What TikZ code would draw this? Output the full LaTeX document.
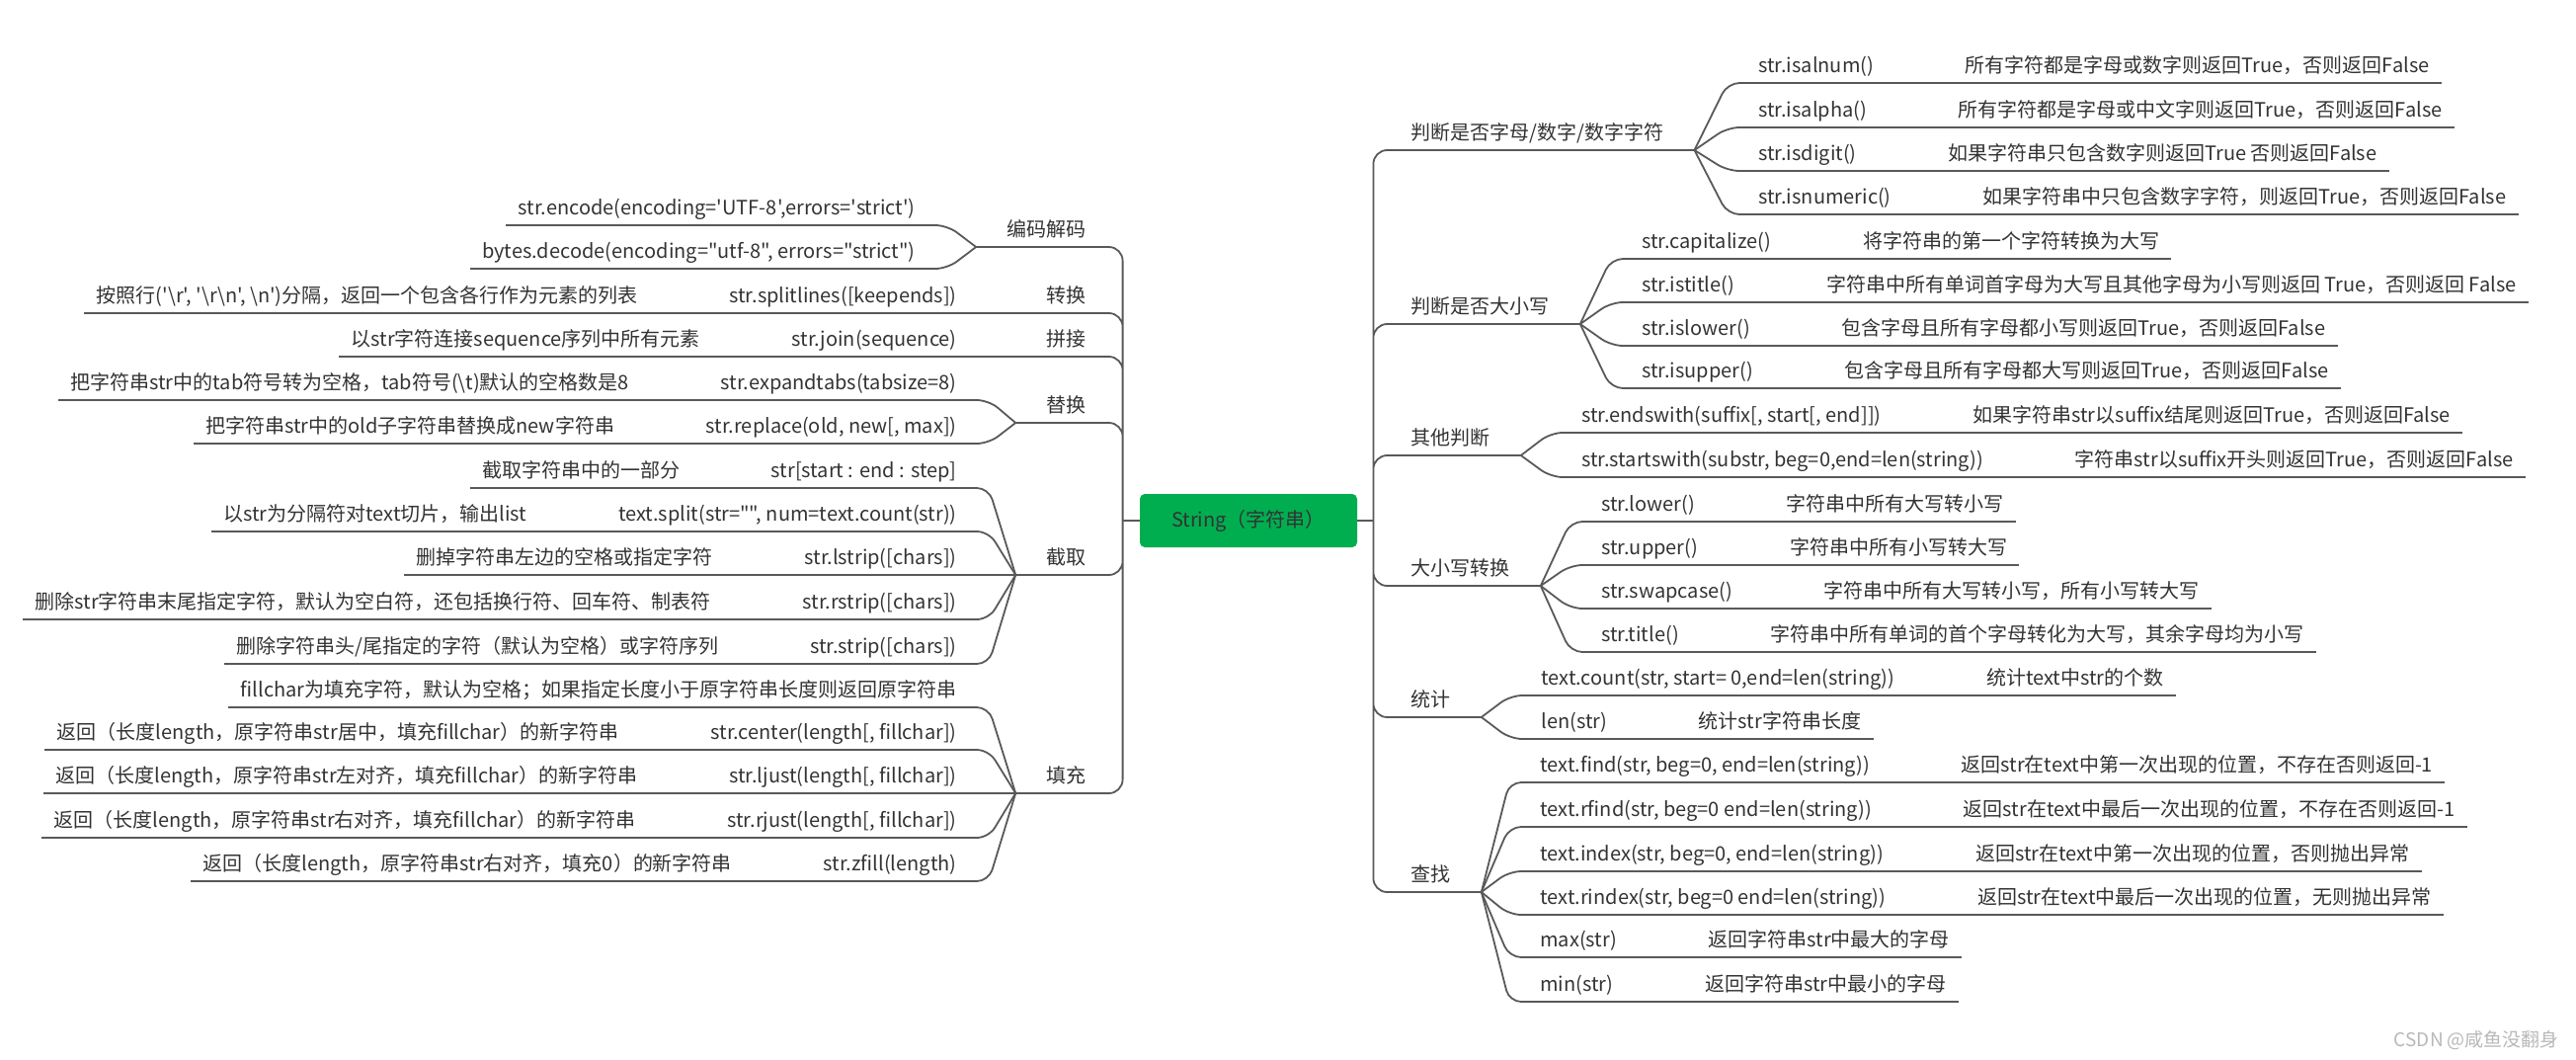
\documentclass[tikz,border=0pt]{standalone}
\usepackage{fontspec}
\setmainfont{Noto Sans CJK SC}[Ligatures=TeXOff]
\usepackage{tikz}
\usetikzlibrary{positioning}
\definecolor{rootgreen}{HTML}{00AE50}
\definecolor{linegray}{HTML}{595959}
\definecolor{txtgray}{HTML}{333333}

\begin{document}
\begin{tikzpicture}[x=0.5pt,y=-0.5pt,node distance=34pt,
   every node/.style={text=txtgray,font=\fontsize{10}{12}\selectfont},
   every edge/.style={draw=linegray,line width=0.9pt},
   root/.style={fill=rootgreen,rounded corners=2.5pt,minimum width=110pt,minimum height=27pt},
   cat/.style={inner xsep=15.5pt,inner ysep=0pt,text height=8pt,text depth=5pt},
   leaf/.style={inner xsep=6pt,inner ysep=0pt,text height=8pt,text depth=5pt,
      append after command={(\tikzlastnode.south west) edge (\tikzlastnode.south east)}},
   trunk/.style={draw=linegray,line width=0.9pt,rounded corners=7pt},
   fanr/.style={rounded corners=6pt,to path={-- ([xshift=-9.5pt]\tikztotarget) -- (\tikztotarget)}},
   fanl/.style={rounded corners=6pt,to path={-- ([xshift=10pt]\tikztotarget) -- (\tikztotarget)}}]
   \useasboundingbox (0,0) rectangle (2608,1072);

   \node[root] (root) at (1264,527) {String（字符串）};
   \coordinate (lt) at ([xshift=-8.5pt]root.west);
   \coordinate (rt) at ([xshift=8pt]root.east);

   % right side
   \node[cat,anchor=south west] (c_alpha) at (1397,152) {判断是否字母/数字/数字字符};
   \node[cat,anchor=south west] (c_case)  at (1397,328) {判断是否大小写};
   \node[cat,anchor=south west] (c_other) at (1397,461) {其他判断};
   \node[cat,anchor=south west] (c_conv)  at (1397,593) {大小写转换};
   \node[cat,anchor=south west] (c_count) at (1397,726) {统计};
   \node[cat,anchor=south west] (c_find)  at (1397,903) {查找};

   \node[leaf,anchor=south west] (m_isalnum) at (1768,84) {str.isalnum()};
   \node[leaf] (d_isalnum) [right=of m_isalnum] {所有字符都是字母或数字则返回True，否则返回False};
   \node[leaf,anchor=south west] (m_isalpha) at (1768,129) {str.isalpha()};
   \node[leaf] (d_isalpha) [right=of m_isalpha] {所有字符都是字母或中文字则返回True，否则返回False};
   \node[leaf,anchor=south west] (m_isdigit) at (1768,173) {str.isdigit()};
   \node[leaf] (d_isdigit) [right=of m_isdigit] {如果字符串只包含数字则返回True 否则返回False};
   \node[leaf,anchor=south west] (m_isnumeric) at (1768,217) {str.isnumeric()};
   \node[leaf] (d_isnumeric) [right=of m_isnumeric] {如果字符串中只包含数字字符，则返回True，否则返回False};

   \node[leaf,anchor=south west] (m_capitalize) at (1650,262) {str.capitalize()};
   \node[leaf] (d_capitalize) [right=of m_capitalize] {将字符串的第一个字符转换为大写};
   \node[leaf,anchor=south west] (m_istitle) at (1650,306) {str.istitle()};
   \node[leaf] (d_istitle) [right=of m_istitle] {字符串中所有单词首字母为大写且其他字母为小写则返回 True，否则返回 False};
   \node[leaf,anchor=south west] (m_islower) at (1650,350) {str.islower()};
   \node[leaf] (d_islower) [right=of m_islower] {包含字母且所有字母都小写则返回True，否则返回False};
   \node[leaf,anchor=south west] (m_isupper) at (1650,393) {str.isupper()};
   \node[leaf] (d_isupper) [right=of m_isupper] {包含字母且所有字母都大写则返回True，否则返回False};

   \node[leaf,anchor=south west] (m_endswith) at (1589,438) {str.endswith(suffix[, start[, end]])};
   \node[leaf] (d_endswith) [right=of m_endswith] {如果字符串str以suffix结尾则返回True，否则返回False};
   \node[leaf,anchor=south west] (m_startswith) at (1589,483) {str.startswith(substr, beg=0,end=len(string))};
   \node[leaf] (d_startswith) [right=of m_startswith] {字符串str以suffix开头则返回True，否则返回False};

   \node[leaf,anchor=south west] (m_lower) at (1609,528) {str.lower()};
   \node[leaf] (d_lower) [right=of m_lower] {字符串中所有大写转小写};
   \node[leaf,anchor=south west] (m_upper) at (1609,572) {str.upper()};
   \node[leaf] (d_upper) [right=of m_upper] {字符串中所有小写转大写};
   \node[leaf,anchor=south west] (m_swapcase) at (1609,616) {str.swapcase()};
   \node[leaf] (d_swapcase) [right=of m_swapcase] {字符串中所有大写转小写，所有小写转大写};
   \node[leaf,anchor=south west] (m_title) at (1609,660) {str.title()};
   \node[leaf] (d_title) [right=of m_title] {字符串中所有单词的首个字母转化为大写，其余字母均为小写};

   \node[leaf,anchor=south west] (m_count) at (1548,704) {text.count(str, start= 0,end=len(string))};
   \node[leaf] (d_count) [right=of m_count] {统计text中str的个数};
   \node[leaf,anchor=south west] (m_len) at (1548,748) {len(str)};
   \node[leaf] (d_len) [right=of m_len] {统计str字符串长度};

   \node[leaf,anchor=south west] (m_find) at (1547,792) {text.find(str, beg=0, end=len(string))};
   \node[leaf] (d_find) [right=of m_find] {返回str在text中第一次出现的位置，不存在否则返回-1};
   \node[leaf,anchor=south west] (m_rfind) at (1547,837) {text.rfind(str, beg=0 end=len(string))};
   \node[leaf] (d_rfind) [right=of m_rfind] {返回str在text中最后一次出现的位置，不存在否则返回-1};
   \node[leaf,anchor=south west] (m_index) at (1547,882) {text.index(str, beg=0, end=len(string))};
   \node[leaf] (d_index) [right=of m_index] {返回str在text中第一次出现的位置，否则抛出异常};
   \node[leaf,anchor=south west] (m_rindex) at (1547,926) {text.rindex(str, beg=0 end=len(string))};
   \node[leaf] (d_rindex) [right=of m_rindex] {返回str在text中最后一次出现的位置，无则抛出异常};
   \node[leaf,anchor=south west] (m_max) at (1547,969) {max(str)};
   \node[leaf] (d_max) [right=of m_max] {返回字符串str中最大的字母};
   \node[leaf,anchor=south west] (m_min) at (1547,1014) {min(str)};
   \node[leaf] (d_min) [right=of m_min] {返回字符串str中最小的字母};

   % left side
   \node[cat,anchor=south east] (l_code)  at (1131,250) {编码解码};
   \node[cat,anchor=south east] (l_split) at (1131,317) {转换};
   \node[cat,anchor=south east] (l_join)  at (1131,361) {拼接};
   \node[cat,anchor=south east] (l_repl)  at (1131,428) {替换};
   \node[cat,anchor=south east] (l_cut)   at (1131,582) {截取};
   \node[cat,anchor=south east] (l_fill)  at (1131,803) {填充};

   \node[leaf,anchor=south east] (m_encode) at (939,228) {str.encode(encoding='UTF-8',errors='strict')};
   \node[leaf,anchor=south east] (m_decode) at (939,272) {bytes.decode(encoding="utf-8", errors="strict")};

   \node[leaf,anchor=south east] (m_splitlines) at (981,317) {str.splitlines([keepends])};
   \node[leaf] (d_splitlines) [left=of m_splitlines] {按照行('\textbackslash r', '\textbackslash r\textbackslash n', \textbackslash n')分隔，返回一个包含各行作为元素的列表};
   \node[leaf,anchor=south east] (m_join) at (981,361) {str.join(sequence)};
   \node[leaf] (d_join) [left=of m_join] {以str字符连接sequence序列中所有元素};

   \node[leaf,anchor=south east] (m_expand) at (981,405) {str.expandtabs(tabsize=8)};
   \node[leaf] (d_expand) [left=of m_expand] {把字符串str中的tab符号转为空格，tab符号(\textbackslash t)默认的空格数是8};
   \node[leaf,anchor=south east] (m_replace) at (981,449) {str.replace(old, new[, max])};
   \node[leaf] (d_replace) [left=of m_replace] {把字符串str中的old子字符串替换成new字符串};

   \node[leaf,anchor=south east] (m_slice) at (981,494) {str[start : end : step]};
   \node[leaf] (d_slice) [left=of m_slice] {截取字符串中的一部分};
   \node[leaf,anchor=south east] (m_split) at (981,538) {text.split(str="", num=text.count(str))};
   \node[leaf] (d_split) [left=of m_split] {以str为分隔符对text切片，输出list};
   \node[leaf,anchor=south east] (m_lstrip) at (981,582) {str.lstrip([chars])};
   \node[leaf] (d_lstrip) [left=of m_lstrip] {删掉字符串左边的空格或指定字符};
   \node[leaf,anchor=south east] (m_rstrip) at (981,627) {str.rstrip([chars])};
   \node[leaf] (d_rstrip) [left=of m_rstrip] {删除str字符串末尾指定字符，默认为空白符，还包括换行符、回车符、制表符};
   \node[leaf,anchor=south east] (m_strip) at (981,672) {str.strip([chars])};
   \node[leaf] (d_strip) [left=of m_strip] {删除字符串头/尾指定的字符（默认为空格）或字符序列};

   \node[leaf,anchor=south east] (n_fill) at (981,716) {fillchar为填充字符，默认为空格；如果指定长度小于原字符串长度则返回原字符串};
   \node[leaf,anchor=south east] (m_center) at (981,759) {str.center(length[, fillchar])};
   \node[leaf] (d_center) [left=of m_center] {返回（长度length，原字符串str居中，填充fillchar）的新字符串};
   \node[leaf,anchor=south east] (m_ljust) at (981,803) {str.ljust(length[, fillchar])};
   \node[leaf] (d_ljust) [left=of m_ljust] {返回（长度length，原字符串str左对齐，填充fillchar）的新字符串};
   \node[leaf,anchor=south east] (m_rjust) at (981,848) {str.rjust(length[, fillchar])};
   \node[leaf] (d_rjust) [left=of m_rjust] {返回（长度length，原字符串str右对齐，填充fillchar）的新字符串};
   \node[leaf,anchor=south east] (m_zfill) at (981,892) {str.zfill(length)};
   \node[leaf] (d_zfill) [left=of m_zfill] {返回（长度length，原字符串str右对齐，填充0）的新字符串};

   \node[anchor=east,text=black!28,font=\fontsize{9.5}{11}\selectfont] (mark) at (2598,1053) {CSDN @咸鱼没翻身};

   % trunks
   \draw[trunk] (root.east) -- (rt) (root.west) -- (lt);
   \draw[trunk] (rt) |- (c_alpha.south east) (rt) |- (c_case.south east)
                (rt) |- (c_other.south east) (rt) |- (c_conv.south east)
                (rt) |- (c_count.south east) (rt) |- (c_find.south east);
   \draw[trunk] (lt) |- (l_code.south west) (lt) |- (l_split.south west)
                (lt) |- (l_join.south west) (lt) |- (l_repl.south west)
                (lt) |- (l_cut.south west) (lt) |- (l_fill.south west);

   % fans
   \path (c_alpha.south east) edge[fanr] (m_isalnum.south west)
                              edge[fanr] (m_isalpha.south west)
                              edge[fanr] (m_isdigit.south west)
                              edge[fanr] (m_isnumeric.south west)
         (c_case.south east)  edge[fanr] (m_capitalize.south west)
                              edge[fanr] (m_istitle.south west)
                              edge[fanr] (m_islower.south west)
                              edge[fanr] (m_isupper.south west)
         (c_other.south east) edge[fanr] (m_endswith.south west)
                              edge[fanr] (m_startswith.south west)
         (c_conv.south east)  edge[fanr] (m_lower.south west)
                              edge[fanr] (m_upper.south west)
                              edge[fanr] (m_swapcase.south west)
                              edge[fanr] (m_title.south west)
         (c_count.south east) edge[fanr] (m_count.south west)
                              edge[fanr] (m_len.south west)
         (c_find.south east)  edge[fanr] (m_find.south west)
                              edge[fanr] (m_rfind.south west)
                              edge[fanr] (m_index.south west)
                              edge[fanr] (m_rindex.south west)
                              edge[fanr] (m_max.south west)
                              edge[fanr] (m_min.south west);
   \path (l_code.south west)  edge[fanl] (m_encode.south east)
                              edge[fanl] (m_decode.south east)
         (l_split.south west) edge[fanl] (m_splitlines.south east)
         (l_join.south west)  edge[fanl] (m_join.south east)
         (l_repl.south west)  edge[fanl] (m_expand.south east)
                              edge[fanl] (m_replace.south east)
         (l_cut.south west)   edge[fanl] (m_slice.south east)
                              edge[fanl] (m_split.south east)
                              edge[fanl] (m_lstrip.south east)
                              edge[fanl] (m_rstrip.south east)
                              edge[fanl] (m_strip.south east)
         (l_fill.south west)  edge[fanl] (n_fill.south east)
                              edge[fanl] (m_center.south east)
                              edge[fanl] (m_ljust.south east)
                              edge[fanl] (m_rjust.south east)
                              edge[fanl] (m_zfill.south east);

   % method to description
   \path (m_isalnum.south east) edge (d_isalnum.south west)
         (m_isalpha.south east) edge (d_isalpha.south west)
         (m_isdigit.south east) edge (d_isdigit.south west)
         (m_isnumeric.south east) edge (d_isnumeric.south west)
         (m_capitalize.south east) edge (d_capitalize.south west)
         (m_istitle.south east) edge (d_istitle.south west)
         (m_islower.south east) edge (d_islower.south west)
         (m_isupper.south east) edge (d_isupper.south west)
         (m_endswith.south east) edge (d_endswith.south west)
         (m_startswith.south east) edge (d_startswith.south west)
         (m_lower.south east) edge (d_lower.south west)
         (m_upper.south east) edge (d_upper.south west)
         (m_swapcase.south east) edge (d_swapcase.south west)
         (m_title.south east) edge (d_title.south west)
         (m_count.south east) edge (d_count.south west)
         (m_len.south east) edge (d_len.south west)
         (m_find.south east) edge (d_find.south west)
         (m_rfind.south east) edge (d_rfind.south west)
         (m_index.south east) edge (d_index.south west)
         (m_rindex.south east) edge (d_rindex.south west)
         (m_max.south east) edge (d_max.south west)
         (m_min.south east) edge (d_min.south west);
   \path (m_splitlines.south west) edge (d_splitlines.south east)
         (m_join.south west) edge (d_join.south east)
         (m_expand.south west) edge (d_expand.south east)
         (m_replace.south west) edge (d_replace.south east)
         (m_slice.south west) edge (d_slice.south east)
         (m_split.south west) edge (d_split.south east)
         (m_lstrip.south west) edge (d_lstrip.south east)
         (m_rstrip.south west) edge (d_rstrip.south east)
         (m_strip.south west) edge (d_strip.south east)
         (m_center.south west) edge (d_center.south east)
         (m_ljust.south west) edge (d_ljust.south east)
         (m_rjust.south west) edge (d_rjust.south east)
         (m_zfill.south west) edge (d_zfill.south east);
\end{tikzpicture}
\end{document}
